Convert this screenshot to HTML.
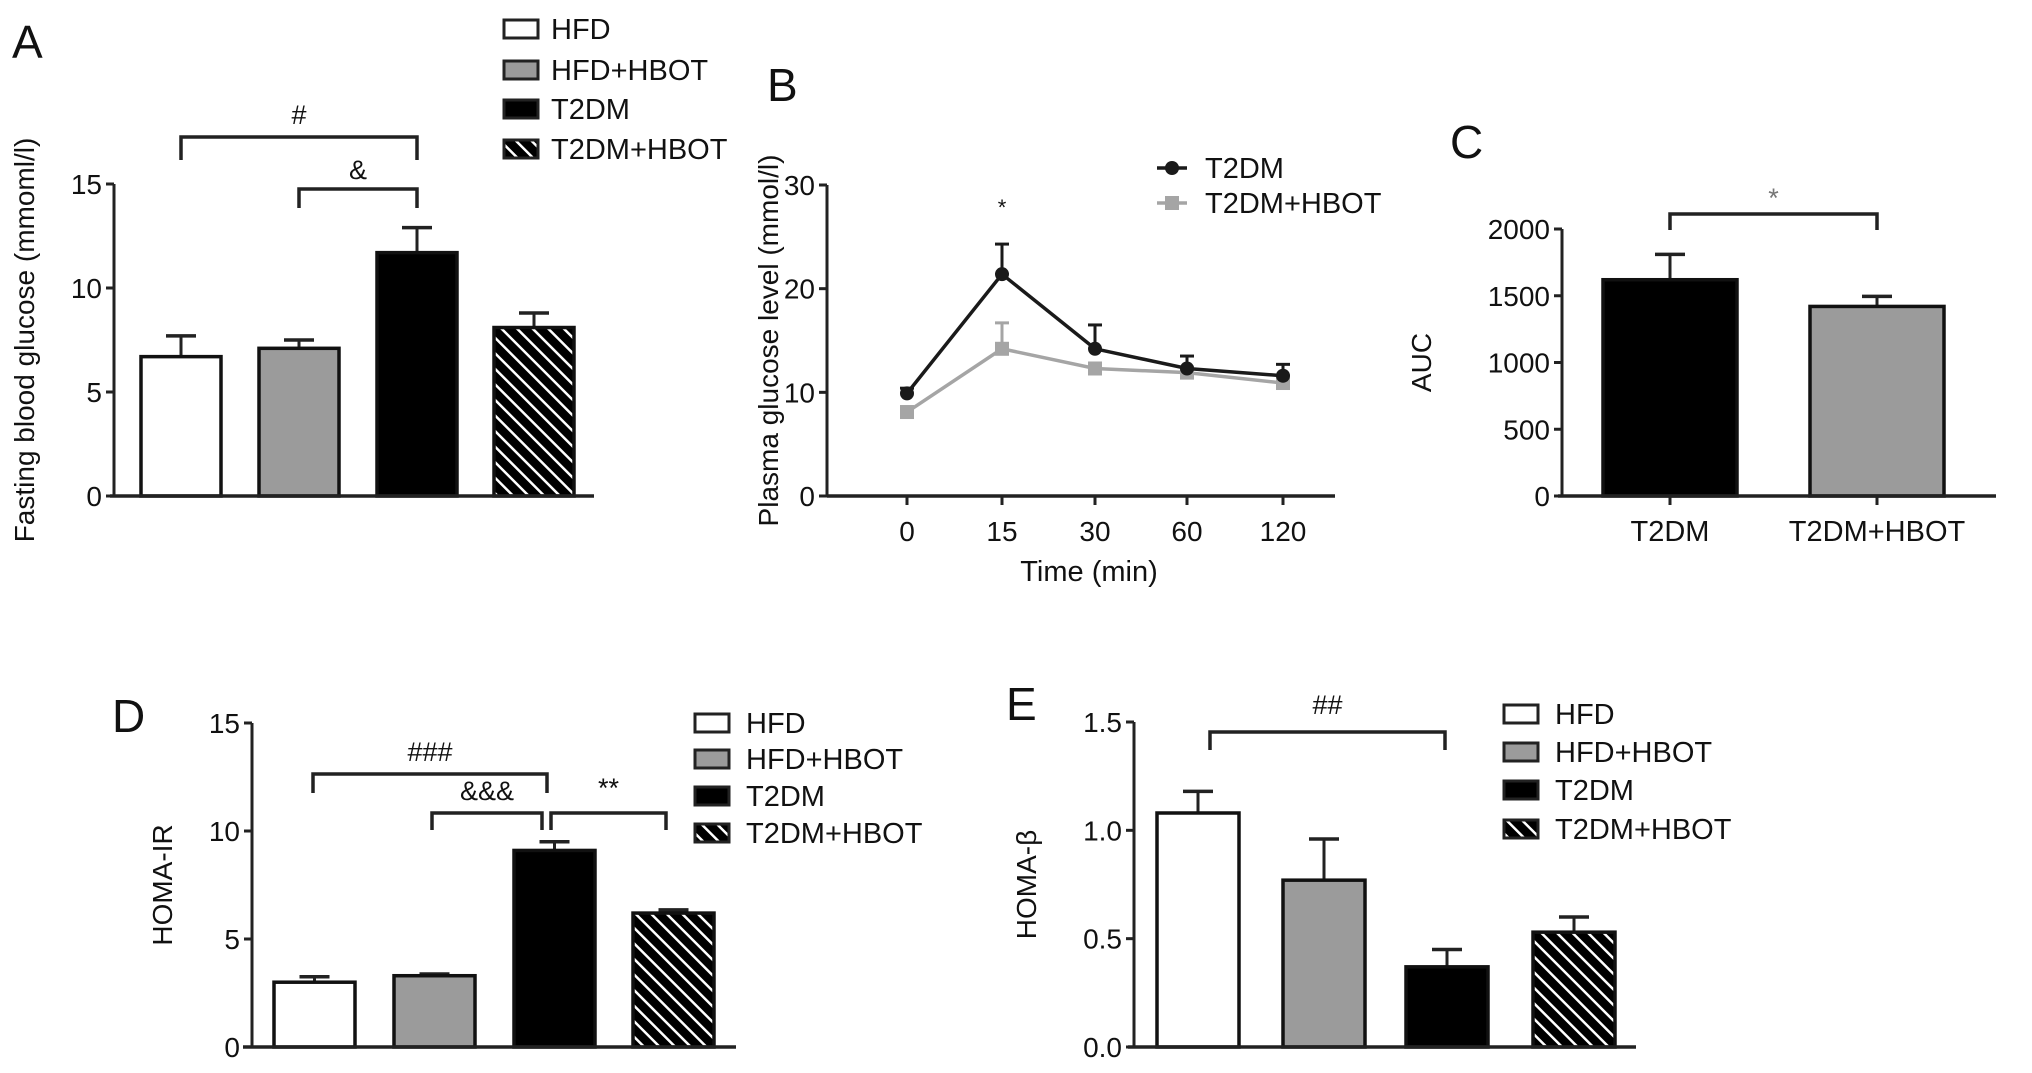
<!DOCTYPE html>
<html><head><meta charset="utf-8"><style>
html,body{margin:0;padding:0;background:#fff;}
svg{display:block;font-family:"Liberation Sans",Arial,sans-serif;}
</style></head><body>
<svg id="fig" width="2032" height="1073" viewBox="0 0 2032 1073" xmlns="http://www.w3.org/2000/svg">
<defs>
<pattern id="hatch" width="11" height="11" patternUnits="userSpaceOnUse" patternTransform="rotate(-45)">
<rect width="11" height="11" fill="#000"/><rect x="0" y="0" width="2.5" height="11" fill="#fff"/>
</pattern>
</defs>
</svg>
<script>
const groups4 = ["HFD","HFD+HBOT","T2DM","T2DM+HBOT"];
const fillsA = ["#fff","#9b9b9b","#000","url(#hatch)"];
const glucoseMean = [6.7, 7.1, 11.7, 8.1];
const glucoseErr = [1.0, 0.4, 1.2, 0.7];
const glucoseTicks = ["0","5","10","15"];
const timeLabels = ["0","15","30","60","120"];
const ogttT2DM = [9.9, 21.4, 14.2, 12.3, 11.6];
const ogttT2DMErr = [0.5, 2.9, 2.3, 1.2, 1.1];
const ogttHBOT = [8.1, 14.2, 12.3, 11.9, 10.9];
const ogttHBOTErr = [0.3, 2.5, 0.5, 0.5, 0.4];
const ogttTicks = ["0","10","20","30"];
const aucGroups = ["T2DM","T2DM+HBOT"];
const aucMean = [1620, 1420];
const aucErr = [190, 75];
const aucTicks = ["0","500","1000","1500","2000"];
const homaIR = [3.0, 3.3, 9.1, 6.2];
const homaIRErr = [0.25, 0.08, 0.4, 0.15];
const homaIRTicks = ["0","5","10","15"];
const homaB = [1.08, 0.77, 0.37, 0.53];
const homaBErr = [0.10, 0.19, 0.08, 0.07];
const homaBTicks = ["0.0","0.5","1.0","1.5"];

const svg = document.getElementById('fig');
const NS = "http://www.w3.org/2000/svg";
function el(tag, attrs, parent){const e=document.createElementNS(NS,tag);for(const k in attrs)e.setAttribute(k,attrs[k]);(parent||svg).appendChild(e);return e;}
function txt(s, x, y, size, anchor, parent, extra){const t=el('text',Object.assign({x:x,y:y,'font-size':size,'text-anchor':anchor||'start',fill:'#111'},extra||{}),parent);t.textContent=s;return t;}
function line(x1,y1,x2,y2,parent,w,c){return el('line',{x1,y1,x2,y2,stroke:c||'#222','stroke-width':w||3},parent);}

function yAxis(g, x, y0, y1, ticks, vmax, label, lx){
  const ax=line(x,y0,x,y1,g,3);
  
  
  ticks.forEach(t=>{const v=parseFloat(t);const y=y0-(y0-y1)*v/vmax;line(x-8,y,x,y,g,3);
    const tl=txt(t,x-12,y+10,28,'end',g);
    
    });
  const yl=txt(label,0,0,28,'middle',g,{transform:`translate(${lx},${(y0+y1)/2}) rotate(-90)`});
  
  
}
function bracket(g,x1,x2,y,leg,label,ly,color){
  const p=el('path',{d:`M${x1},${y+leg} V${y} H${x2} V${y+leg}`,fill:'none',stroke:'#222','stroke-width':3.5},g);
  
  
  const t=txt(label,(x1+x2)/2,ly,27,'middle',g,{fill:color||'#111'});
  
  
}
function legend4(g,x,ys,tx){
  groups4.forEach((n,i)=>{
    const r=el('rect',{x:x,y:ys[i]-9,width:34,height:18,fill:fillsA[i],stroke:'#222','stroke-width':3},g);
    
    
    const t=txt(n,tx,ys[i]+10,29,'start',g);
    
    
  });
}
function bars(g,xs,w,y0,y1,vmax,vals,errs,fills){
  const sy=v=>y0-(y0-y1)*v/vmax;
  vals.forEach((v,i)=>{
    const xc=xs[i]+w/2;
    line(xc,sy(v),xc,sy(v+errs[i]),g,3);
    line(xc-15,sy(v+errs[i]),xc+15,sy(v+errs[i]),g,3.5);
    const r=el('rect',{x:xs[i],y:sy(v),width:w,height:y0-sy(v),fill:fills[i],stroke:'#111','stroke-width':3.5},g);
    
    
  });
}
function panelLabel(s,x,y){const t=txt(s,x,y,46,'start');}

// Panel A
{
 const g=el('g',{});  
 panelLabel('A',12,58);
 const y0=496,y1=184,vmax=15, bx=[141,259,377,494], w=80;
 bars(g,bx,w,y0,y1,vmax,glucoseMean,glucoseErr,fillsA);
 line(110,y0,594,y0,g,3.5);
 yAxis(g,114,y0,y1,glucoseTicks,vmax,'Fasting blood glucose (mmoml/l)',34);
 bracket(g,bx[0]+w/2,bx[2]+w/2,137,23,'#',124);
 bracket(g,bx[1]+w/2,bx[2]+w/2,189,19,'&',179);
 legend4(g,504,[29,70,109,149],551);
}
// Panel B
{
 const g=el('g',{});  
 panelLabel('B',767,101);
 const y0=496,y1=185,vmax=30, xs=[907,1002,1095,1187,1283];
 const sy=v=>y0-(y0-y1)*v/vmax;
 line(827,y0,1335,y0,g,3.5);
 xs.forEach((x,i)=>{line(x,y0,x,y0+9,g,3);const t=txt(timeLabels[i],x,541,28,'middle',g);});
 const xt=txt('Time (min)',1089,581,29,'middle',g);
 yAxis(g,827,y0,y1,ogttTicks,vmax,'Plasma glucose level (mmol/l)',778);
 function series(vals,errs,color,marker,name){
   const sg=el('g',{},g);  
   vals.forEach((v,i)=>{line(xs[i],sy(v),xs[i],sy(v+errs[i]),sg,3,color);line(xs[i]-7,sy(v+errs[i]),xs[i]+7,sy(v+errs[i]),sg,3,color);});
   const pl=el('polyline',{points:vals.map((v,i)=>xs[i]+','+sy(v)).join(' '),fill:'none',stroke:color,'stroke-width':3.5},sg);
    
   vals.forEach((v,i)=>{let m;if(marker==='c')m=el('circle',{cx:xs[i],cy:sy(v),r:7,fill:color},sg);else m=el('rect',{x:xs[i]-7,y:sy(v)-7,width:14,height:14,fill:color},sg);
      });
 }
 series(ogttHBOT,ogttHBOTErr,'#a5a5a5','s','series-t2dm-hbot');
 series(ogttT2DM,ogttT2DMErr,'#1a1a1a','c','series-t2dm');
 const st=txt('*',xs[1],215,22,'middle',g);
 const lg=el('g',{},g);  
 line(1157,168,1187,168,lg,3.5,'#1a1a1a'); el('circle',{cx:1172,cy:168,r:7,fill:'#1a1a1a'},lg);
 line(1157,203,1187,203,lg,3.5,'#a5a5a5'); el('rect',{x:1165,y:196,width:14,height:14,fill:'#a5a5a5'},lg);
 let t=txt('T2DM',1205,178,29,'start',lg);
 t=txt('T2DM+HBOT',1205,213,29,'start',lg);
}
// Panel C
{
 const g=el('g',{});  
 panelLabel('C',1450,158);
 const y0=496,y1=229,vmax=2000, bx=[1603,1810], w=134;
 bars(g,bx,w,y0,y1,vmax,aucMean,aucErr,['#000','#9b9b9b']);
 line(1558,y0,1996,y0,g,3.5);
 bx.forEach((x,i)=>{line(x+w/2,y0,x+w/2,y0+9,g,3);const t=txt(aucGroups[i],x+w/2,541,29,'middle',g);});
 yAxis(g,1562,y0,y1,aucTicks,vmax,'AUC',1431);
 bracket(g,bx[0]+w/2,bx[1]+w/2,214,16,'*',207,'#777');
}
// Panel D
{
 const g=el('g',{});  
 panelLabel('D',112,732);
 const y0=1047,y1=723,vmax=15, bx=[274,394,514,633], w=81;
 bars(g,bx,w,y0,y1,vmax,homaIR,homaIRErr,fillsA);
 line(243,y0,736,y0,g,3.5);
 yAxis(g,252,y0,y1,homaIRTicks,vmax,'HOMA-IR',172);
 bracket(g,313,547,774,19,'###',761);
 bracket(g,432,542,813,17,'&&&',800);
 bracket(g,551,666,813,17,'**',797);
 legend4(g,695,[723,759,796,833],746);
}
// Panel E
{
 const g=el('g',{});  
 panelLabel('E',1006,720);
 const y0=1047,y1=722,vmax=1.5, bx=[1157,1283,1406,1533], w=82;
 bars(g,bx,w,y0,y1,vmax,homaB,homaBErr,fillsA);
 line(1128,y0,1636,y0,g,3.5);
 yAxis(g,1134,y0,y1,homaBTicks,vmax,'HOMA-β',1036);
 bracket(g,1210,1445,732,18,'##',714);
 legend4(g,1504,[714,752,790,829],1555);
}
</script>
</body></html>
